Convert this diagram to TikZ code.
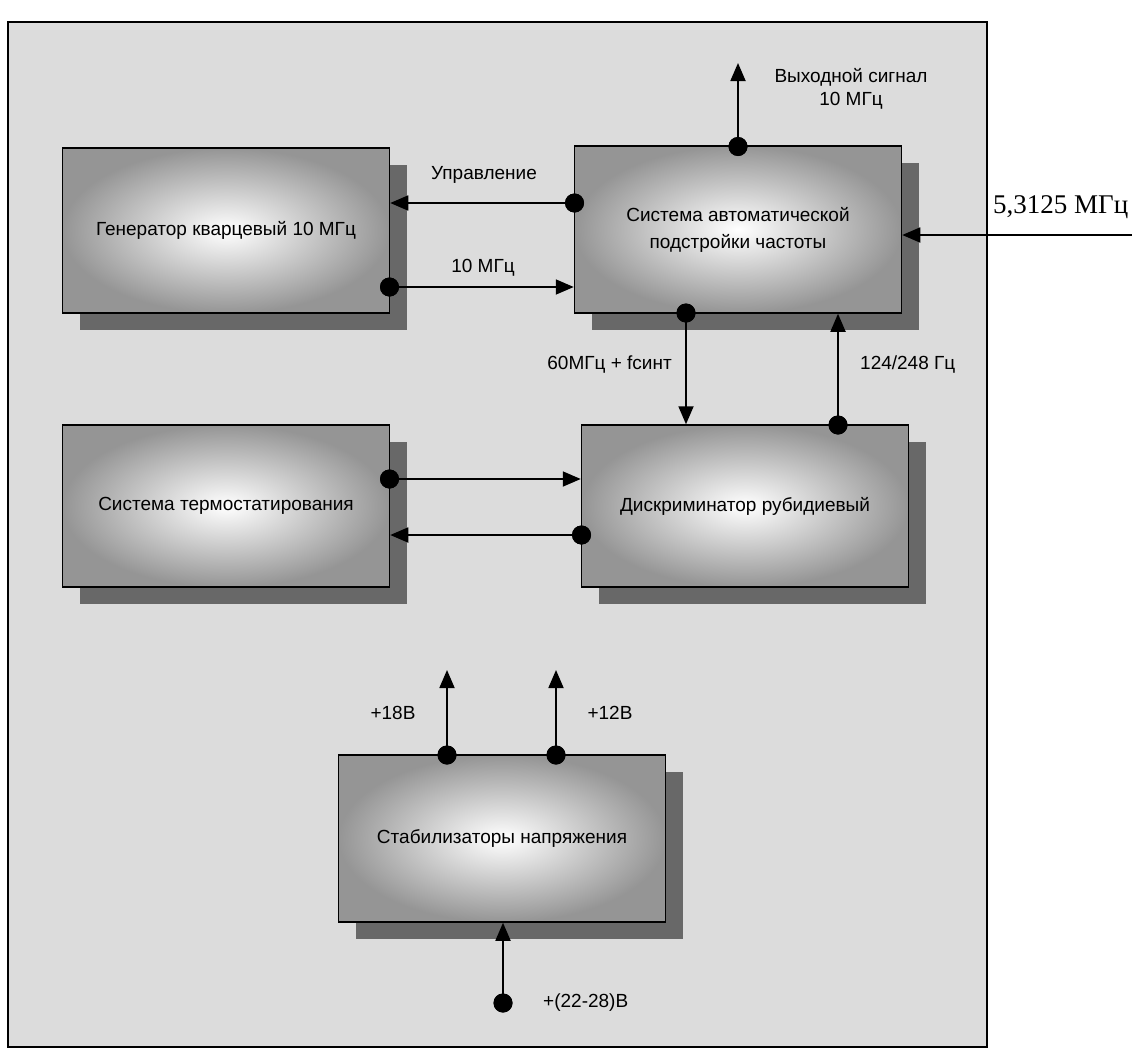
\documentclass[tikz,border=0pt]{standalone}
\usepackage{fontspec}
\setmainfont{Liberation Sans}
\newfontfamily\serifru{Liberation Serif}
\usetikzlibrary{arrows.meta,shadows,calc}
\definecolor{bggray}{HTML}{DCDCDC}
\definecolor{boxgray}{HTML}{959595}
\definecolor{shadowgray}{HTML}{686868}
\begin{document}
\begin{tikzpicture}[x=1pt,y=-1pt,
  blk/.style={draw=black,line width=1.5pt,shading=radial,inner color=white,outer color=boxgray,
    general shadow={fill=shadowgray,shadow xshift=17pt,shadow yshift=-17pt},
    minimum width=327pt,minimum height=165pt,inner sep=0pt,align=center,
    font=\fontsize{19}{27}\selectfont},
  dot/.style={circle,fill=black,inner sep=0pt,minimum size=19pt},
  arr/.style={line width=1.8pt,-{Triangle[length=18pt,width=15pt]}},
  lbl/.style={font=\fontsize{19}{23}\selectfont,inner sep=0pt,align=center}]
\useasboundingbox (0,0) rectangle (1132,1055);
\draw[fill=bggray,line width=1.5pt] (8,22) rectangle (987,1047);

% blocks
\node[blk] (gen) at (226,230.5) {Генератор кварцевый 10 МГц};
\node[blk,minimum height=167pt] (sapch) at (738,229.5) {Система автоматической\\подстройки частоты};
\node[blk,minimum height=162pt] (therm) at (226,506) {Система термостатирования};
\node[blk,minimum height=162pt] (disc) at (745,506) {Дискриминатор рубидиевый};
\node[blk,minimum height=167pt] (stab) at (502,838.5) {Стабилизаторы напряжения};

% dots
\node[dot] (dout) at (738,146.5) {};
\node[dot] (dctl) at (574.5,203) {};
\node[dot] (d10) at (389.5,287) {};
\node[dot] (d60) at (686,313) {};
\node[dot] (d124) at (838,425) {};
\node[dot] (dth) at (389.5,479) {};
\node[dot] (ddi) at (581.5,535) {};
\node[dot] (d18) at (447,755) {};
\node[dot] (d12) at (556,755) {};
\node[dot] (din) at (503,1003) {};

% free ends
\coordinate (outtip) at (738,63);
\coordinate (inref) at (1132,235);
\coordinate (t18) at (447,670);
\coordinate (t12) at (556,670);

% connectors
\draw[arr] (dout.center) -- (outtip);
\draw[arr] (dctl.center) -- (gen.east |- dctl);
\draw[arr] (d10.center) -- (sapch.west |- d10);
\draw[arr] (inref) -- (sapch.east |- inref);
\draw[arr] (d60.center) -- (d60 |- disc.north);
\draw[arr] (d124.center) -- (d124 |- sapch.south);
\draw[arr] (dth.center) -- (disc.west |- dth);
\draw[arr] (ddi.center) -- (therm.east |- ddi);
\draw[arr] (d18.center) -- (t18);
\draw[arr] (d12.center) -- (t12);
\draw[arr] (din.center) -- (din |- stab.south);

% redraw dots on top
\foreach \d in {dout,dctl,d10,d60,d124,dth,ddi,d18,d12,din}
  \fill (\d) circle (9.5pt);

% labels
\node[lbl] (outlbl) at (851,89) {Выходной сигнал\\10 МГц};
\node[lbl] (ctllbl) at (484,175) {Управление};
\node[lbl] (f10lbl) at (483,268) {10 МГц};
\node[lbl,anchor=east] (f60lbl) at (672,365) {60МГц + fсинт};
\node[lbl,anchor=west] (f124lbl) at (860,365) {124/248 Гц};
\node[lbl] (v18lbl) at (393,713) {+18В};
\node[lbl] (v12lbl) at (610,713) {+12В};
\node[lbl,anchor=west] (vinlbl) at (543,1003) {+(22-28)В};
\node[font=\serifru\fontsize{27}{30}\selectfont,inner sep=0pt,anchor=west] (reflbl) at (993,207) {5,3125 МГц};
\end{tikzpicture}
\end{document}
